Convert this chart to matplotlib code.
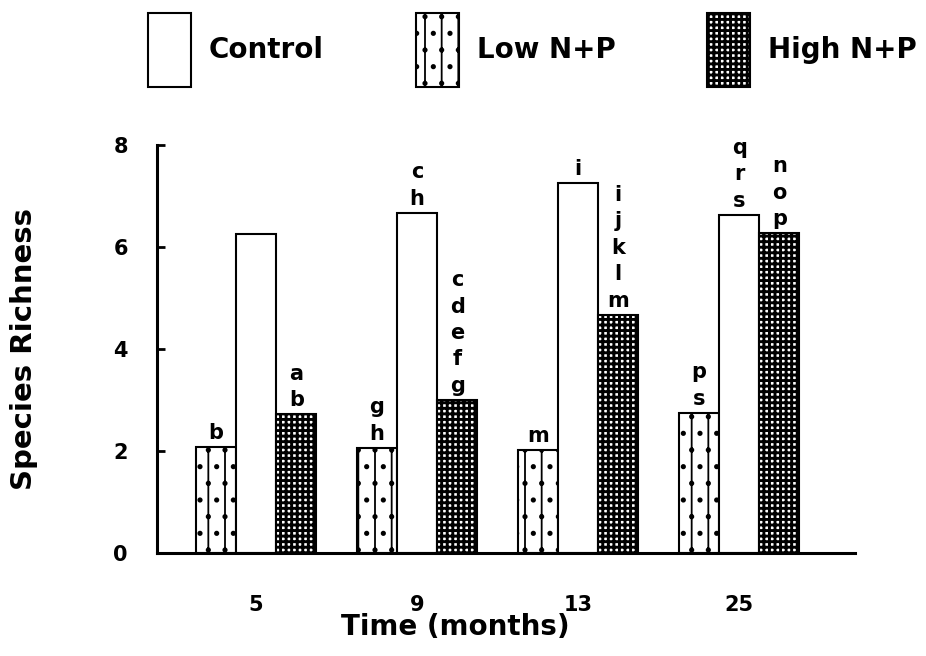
import numpy as np
import matplotlib.pyplot as plt
from matplotlib.patches import Patch

plt.rcParams['font.family'] = 'DejaVu Sans'
plt.rcParams['font.weight'] = 'bold'
plt.rcParams['hatch.linewidth'] = 1.3

# data
months = ['5', '9', '13', '25']
low = [2.08, 2.06, 2.02, 2.75]
control = [6.26, 6.67, 7.25, 6.63]
high = [2.72, 3.0, 4.67, 6.27]

# significance letters above bars
low_letters = ['b', 'g\nh', 'm', 'p\ns']
control_letters = ['', 'c\nh', 'i', 'q\nr\ns']
high_letters = ['a\nb', 'c\nd\ne\nf\ng', 'i\nj\nk\nl\nm', 'n\no\np']

fig = plt.figure(figsize=(9.26, 6.56), dpi=100)
ax = fig.add_axes([157/926, 1-553/656, 698/926, 408/656])


def thick_hatch(patches, lw):
    for p in patches:
        try:
            p.set_hatch_linewidth(lw)
        except AttributeError:
            pass


x = np.arange(len(months)) * 4
w = 1.0
b_low = ax.bar(x - w, low, w, facecolor='white', edgecolor='black', linewidth=1.5, hatch='|.')
b_ctl = ax.bar(x, control, w, facecolor='white', edgecolor='black', linewidth=1.5)
b_high = ax.bar(x + w, high, w, facecolor='white', edgecolor='black', linewidth=1.5, hatch='+++')
thick_hatch(b_high, 2.1)

for bars, letters in [(b_low, low_letters), (b_ctl, control_letters), (b_high, high_letters)]:
    for rect, txt in zip(bars, letters):
        if txt:
            ax.annotate(txt, (rect.get_x() + rect.get_width()/2, rect.get_height()),
                        xytext=(0, 3), textcoords='offset points', ha='center', va='bottom',
                        fontsize=15, fontweight='bold', linespacing=1.4)

ax.set_xlim(-2.46, 14.88)
ax.set_ylim(0, 8)
ax.set_yticks([0, 2, 4, 6, 8])
ax.set_xticks(x)
ax.set_xticklabels(months)
ax.tick_params(axis='y', direction='in', length=6, width=2, pad=21, labelsize=15)
ax.tick_params(axis='x', length=0, pad=30, labelsize=15)
for s in ['top', 'right']:
    ax.spines[s].set_visible(False)
ax.spines['left'].set_linewidth(2.2)
ax.spines['bottom'].set_linewidth(2.2)

ax.set_ylabel('Species Richness', fontsize=21, fontweight='bold')
ax.yaxis.set_label_coords(-0.17, 0.5)
fig.text(455/926, 1-627/656, 'Time (months)', ha='center', va='center', fontsize=20, fontweight='bold')

handles = [Patch(facecolor='white', edgecolor='black', linewidth=1.5),
           Patch(facecolor='white', edgecolor='black', linewidth=1.5, hatch='|.'),
           Patch(facecolor='white', edgecolor='black', linewidth=1.5, hatch='+++')]
leg = fig.legend(handles, ['Control', 'Low N+P', 'High N+P'], ncol=3, loc='center left',
                 bbox_to_anchor=(148/926, 1-50/656), frameon=False,
                 prop={'weight': 'bold', 'size': 20},
                 handlelength=1.55, handleheight=3.7, handletextpad=0.65,
                 columnspacing=3.3, borderpad=0, borderaxespad=0)
thick_hatch(leg.get_patches()[2:], 2.1)

fig.savefig('out.png', dpi=100)
